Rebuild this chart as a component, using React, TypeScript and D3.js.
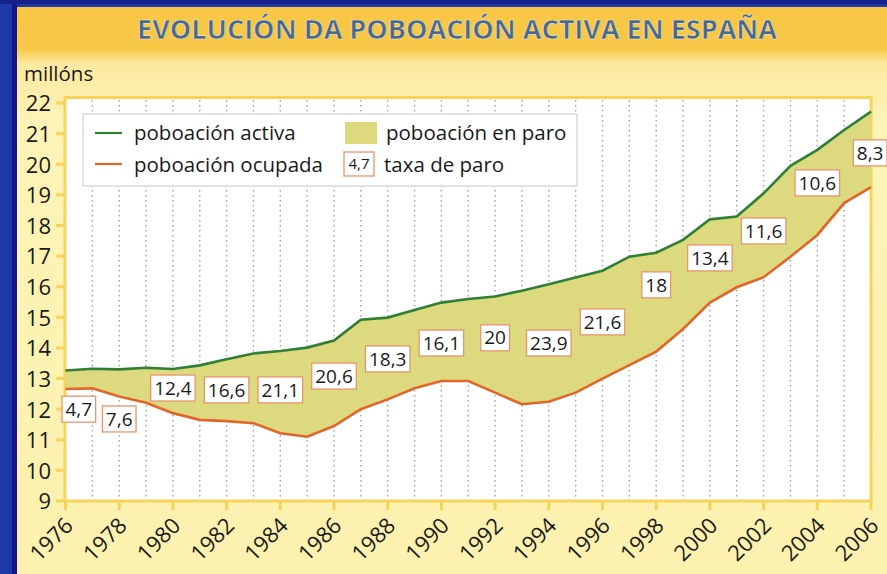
import React, { useEffect, useRef } from 'react';
import * as d3 from 'd3';

// ---- data ----
const years = [1976, 1977, 1978, 1979, 1980, 1981, 1982, 1983, 1984, 1985, 1986, 1987, 1988, 1989, 1990, 1991,
  1992, 1993, 1994, 1995, 1996, 1997, 1998, 1999, 2000, 2001, 2002, 2003, 2004, 2005, 2006];
const activa = [13.26, 13.32, 13.3, 13.35, 13.31, 13.43, 13.63, 13.82, 13.9, 14.01, 14.24, 14.92, 14.99, 15.24, 15.48,
  15.6, 15.68, 15.87, 16.08, 16.3, 16.52, 16.98, 17.11, 17.53, 18.2, 18.29, 19.05, 19.95, 20.47, 21.12, 21.72];
const ocupada = [12.66, 12.68, 12.41, 12.21, 11.87, 11.65, 11.61, 11.54, 11.21, 11.1, 11.45, 12.0, 12.32, 12.68, 12.92,
  12.92, 12.54, 12.16, 12.24, 12.54, 13.0, 13.44, 13.88, 14.62, 15.48, 15.98, 16.31, 16.98, 17.69, 18.73, 19.25];
const rateYears = [1976, 1978, 1980, 1982, 1984, 1986, 1988, 1990, 1992, 1994, 1996, 1998, 2000, 2002, 2004, 2006];
const rateValues = [4.7, 7.6, 12.4, 16.6, 21.1, 20.6, 18.3, 16.1, 20, 23.9, 21.6, 18, 13.4, 11.6, 10.6, 8.3];
// level (in millions) at which each rate label sits
const rateLabelAt = [12.0, 11.68, 12.69, 12.63, 12.63, 13.08, 13.64, 14.16, 14.33, 14.16, 14.85, 16.06, 16.94, 17.82, 19.39, 20.37];
const yTicks = [9, 10, 11, 12, 13, 14, 15, 16, 17, 18, 19, 20, 21, 22];
const xTicks = [1976, 1978, 1980, 1982, 1984, 1986, 1988, 1990, 1992, 1994, 1996, 1998, 2000, 2002, 2004, 2006];
const title = 'EVOLUCIÓN DA POBOACIÓN ACTIVA EN ESPAÑA';
const unitLabel = 'millóns';
const legendItems = ['poboación activa', 'poboación ocupada', 'poboación en paro', 'taxa de paro'];

const W = 887;
const H = 574;
const FONT = '"Open Sans", "Noto Sans", sans-serif';
const GREEN = '#2f7f34';
const ORANGE = '#e2652b';
const FILL = '#dcd97e';
const BOXSTROKE = '#e8956a';
const YEL = '#f7d35a';

const fmt = (v: number) => String(v).replace('.', ',');

export default function App() {
  const ref = useRef<SVGSVGElement>(null);
  useEffect(() => {
    const svg = d3.select(ref.current);
    svg.selectAll('*').remove();

    const x = d3.scaleLinear().domain([1976, 2006]).range([65.5, 871]);
    const y = d3.scaleLinear().domain([9, 22]).range([501, 103]);

    // background frame
    const defs = svg.append('defs');
    const g1 = defs.append('linearGradient').attr('id', 'panel').attr('x1', 0).attr('x2', 0).attr('y1', 0).attr('y2', 1);
    g1.append('stop').attr('offset', '0').attr('stop-color', '#f8c645');
    g1.append('stop').attr('offset', '0.075').attr('stop-color', '#f8c848');
    g1.append('stop').attr('offset', '0.1').attr('stop-color', '#fbe9a0');
    g1.append('stop').attr('offset', '0.2').attr('stop-color', '#fdf3b6');
    g1.append('stop').attr('offset', '1').attr('stop-color', '#fcf1ae');

    svg.append('rect').attr('x', 0).attr('y', 0).attr('width', W).attr('height', H).attr('fill', '#1f3aa8');
    svg.append('rect').attr('x', 0).attr('y', 0).attr('width', W).attr('height', 4).attr('fill', '#15208a');
    svg.append('rect').attr('x', 12).attr('y', 4).attr('width', 5).attr('height', H).attr('fill', '#16168a');
    svg.append('rect').attr('x', 17).attr('y', 7).attr('width', W - 17).attr('height', H - 7).attr('fill', 'url(#panel)');

    // title
    svg.append('text').attr('x', 457).attr('y', 39).attr('text-anchor', 'middle')
      .attr('font-family', FONT).attr('font-weight', 700).attr('font-size', 27)
      .attr('fill', '#486893').attr('stroke', '#f3e6b0').attr('stroke-width', 0.6)
      .attr('textLength', 640).attr('lengthAdjust', 'spacingAndGlyphs')
      .text(title);

    // plot area
    svg.append('rect').attr('x', 65).attr('y', 97.5).attr('width', 806).attr('height', 403.5)
      .attr('fill', '#ffffff').attr('stroke', YEL).attr('stroke-width', 3);

    // dotted vertical grid
    svg.append('g').selectAll('line').data(years.slice(1, -1)).join('line')
      .attr('x1', d => x(d)).attr('x2', d => x(d)).attr('y1', 100).attr('y2', 499)
      .attr('stroke', '#a0a0a0').attr('stroke-width', 1.4).attr('stroke-dasharray', '1.4 3.6');

    // area between
    const pts = years.map((yr, i) => ({ yr, a: activa[i], o: ocupada[i] }));
    svg.append('path').datum(pts)
      .attr('d', d3.area<any>().x(d => x(d.yr)).y0(d => y(d.o)).y1(d => y(d.a)))
      .attr('fill', FILL);
    svg.append('path').datum(pts)
      .attr('d', d3.line<any>().x(d => x(d.yr)).y(d => y(d.a)))
      .attr('fill', 'none').attr('stroke', GREEN).attr('stroke-width', 2.6);
    svg.append('path').datum(pts)
      .attr('d', d3.line<any>().x(d => x(d.yr)).y(d => y(d.o)))
      .attr('fill', 'none').attr('stroke', ORANGE).attr('stroke-width', 2.6);

    // y axis
    const ya = svg.append('g');
    ya.selectAll('line').data(yTicks).join('line')
      .attr('x1', 56).attr('x2', 65).attr('y1', d => y(d)).attr('y2', d => y(d))
      .attr('stroke', YEL).attr('stroke-width', 3);
    ya.selectAll('text').data(yTicks).join('text')
      .attr('x', 51).attr('y', d => y(d)).attr('dy', '0.38em').attr('text-anchor', 'end')
      .attr('font-family', FONT).attr('font-size', 22).attr('fill', '#1a1a1a')
      .text(d => d);
    svg.append('text').attr('x', 24).attr('y', 81).attr('font-family', FONT).attr('font-size', 20.5)
      .attr('fill', '#1a1a1a').text(unitLabel);

    // x axis
    const xa = svg.append('g');
    xa.selectAll('line').data(xTicks).join('line')
      .attr('x1', d => x(d)).attr('x2', d => x(d)).attr('y1', 501).attr('y2', 510)
      .attr('stroke', YEL).attr('stroke-width', 3);
    xa.selectAll('text').data(xTicks).join('text')
      .attr('transform', d => `translate(${x(d) + 9},${527}) rotate(-45)`)
      .attr('text-anchor', 'end')
      .attr('font-family', FONT).attr('font-size', 22).attr('fill', '#1a1a1a')
      .text(d => d);

    // rate labels
    const lg = svg.append('g');
    rateYears.forEach((yr, i) => {
      const g = lg.append('g');
      const t = g.append('text').attr('font-family', FONT).attr('font-size', 19).attr('fill', '#1a1a1a')
        .attr('text-anchor', 'middle').attr('dy', '0.35em').text(fmt(rateValues[i]));
      const tw = (t.node() as SVGTextElement).getComputedTextLength();
      const bw = tw + 7;
      const bh = 26;
      let cx = x(yr);
      if (cx - bw / 2 < 62) cx = 62 + bw / 2;
      if (cx + bw / 2 > 887) cx = 887 - bw / 2;
      const cy = y(rateLabelAt[i]);
      g.insert('rect', 'text').attr('x', cx - bw / 2).attr('y', cy - bh / 2).attr('width', bw).attr('height', bh)
        .attr('fill', '#ffffff').attr('stroke', BOXSTROKE).attr('stroke-width', 1.3);
      t.attr('x', cx).attr('y', cy);
    });

    // legend
    const leg = svg.append('g');
    leg.append('rect').attr('x', 83).attr('y', 114).attr('width', 494).attr('height', 72)
      .attr('fill', '#ffffff').attr('stroke', '#c9c9c9').attr('stroke-width', 1);
    leg.append('line').attr('x1', 95).attr('x2', 122).attr('y1', 133).attr('y2', 133).attr('stroke', GREEN).attr('stroke-width', 2.2);
    leg.append('line').attr('x1', 95).attr('x2', 122).attr('y1', 164).attr('y2', 164).attr('stroke', ORANGE).attr('stroke-width', 2.2);
    leg.append('rect').attr('x', 345).attr('y', 122).attr('width', 32).attr('height', 22).attr('fill', FILL);
    leg.append('rect').attr('x', 344).attr('y', 152).attr('width', 30).attr('height', 24)
      .attr('fill', '#ffffff').attr('stroke', BOXSTROKE).attr('stroke-width', 1.3);
    leg.append('text').attr('x', 359).attr('y', 164).attr('dy', '0.35em').attr('text-anchor', 'middle')
      .attr('font-family', FONT).attr('font-size', 15).attr('fill', '#1a1a1a').text('4,7');
    const lt = [
      { tx: 134, ty: 140, s: legendItems[0] },
      { tx: 134, ty: 172, s: legendItems[1] },
      { tx: 386, ty: 140, s: legendItems[2] },
      { tx: 384, ty: 172, s: legendItems[3] },
    ];
    leg.selectAll('text.li').data(lt).join('text').attr('class', 'li')
      .attr('x', d => d.tx).attr('y', d => d.ty)
      .attr('font-family', FONT).attr('font-size', 20.5).attr('fill', '#1a1a1a').text(d => d.s);
  }, []);
  return (
    <svg ref={ref} width={W} height={H} style={{ position: 'absolute', left: 0, top: 0, display: 'block' }} />
  );
}
